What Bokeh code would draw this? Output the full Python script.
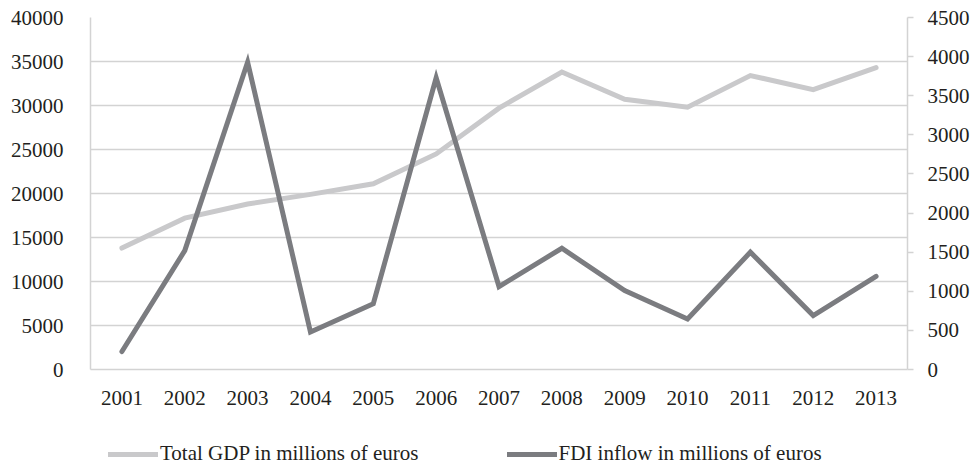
from bokeh.plotting import figure
from bokeh.layouts import column
from bokeh.models import Range1d, LinearAxis, FactorRange, FixedTicker, Legend, LegendItem
from bokeh.embed import file_html
from bokeh.resources import INLINE

years = [str(y) for y in range(2001, 2014)]
gdp = [13800, 17200, 18800, 19900, 21100, 24500, 29700, 33800, 30700, 29800, 33400, 31800, 34300]
fdi = [230, 1520, 3930, 480, 840, 3730, 1060, 1550, 1010, 645, 1500, 690, 1190]
left_ticks = list(range(0, 40001, 5000))
right_ticks = list(range(0, 4501, 500))
series_labels = ["Total GDP in millions of euros", "FDI inflow in millions of euros"]

GDP_COLOR = "#c9c9cb"
FDI_COLOR = "#7b7c80"
GRID = "#d3d3d3"
TEXT = "#231f20"
FONT = "Liberation Serif"
FS = "21px"

p = figure(width=973, height=440, x_range=FactorRange(*years), y_range=Range1d(0, 40000),
           output_backend="svg", toolbar_location=None,
           min_border_left=90, min_border_right=66, min_border_top=17, min_border_bottom=71)
p.extra_y_ranges = {"right": Range1d(0, 4500)}
p.outline_line_color = None
p.background_fill_color = "white"

p.xgrid.grid_line_color = None
p.ygrid.grid_line_color = GRID
p.ygrid.grid_line_width = 1.5
p.yaxis.ticker = FixedTicker(ticks=left_ticks)

for ax in [p.xaxis[0], p.yaxis[0]]:
    ax.axis_line_color = GRID
    ax.axis_line_width = 1.5
    ax.major_tick_line_color = None
    ax.minor_tick_line_color = None
    ax.major_tick_out = 0
    ax.major_tick_in = 0
    ax.major_label_text_font = FONT
    ax.major_label_text_font_size = FS
    ax.major_label_text_color = TEXT
p.yaxis[0].major_label_standoff = 27
p.xaxis[0].major_label_standoff = 21

raxis = LinearAxis(y_range_name="right", ticker=FixedTicker(ticks=right_ticks))
raxis.axis_line_color = GRID
raxis.axis_line_width = 1.5
raxis.major_tick_line_color = GRID
raxis.major_tick_line_width = 1.5
raxis.major_tick_out = 6
raxis.major_tick_in = 0
raxis.minor_tick_line_color = None
raxis.major_label_standoff = 14
raxis.major_label_text_font = FONT
raxis.major_label_text_font_size = FS
raxis.major_label_text_color = TEXT
p.add_layout(raxis, "right")

p.line(years, gdp, line_color=GDP_COLOR, line_width=5, line_cap="round", line_join="miter")
p.line(years, fdi, line_color=FDI_COLOR, line_width=5, line_cap="round", line_join="miter",
       y_range_name="right")

# legend strip below the chart (frame is aligned with the chart's frame by the column)
nan = float("nan")
p2 = figure(width=973, height=28, x_range=Range1d(0, 1), y_range=Range1d(0, 1),
            output_backend="svg", toolbar_location=None, x_axis_type=None, y_axis_type=None,
            min_border_left=90, min_border_right=66, min_border_top=0, min_border_bottom=0)
p2.outline_line_color = None
p2.grid.grid_line_color = None
d1 = p2.line(x=[nan], y=[nan], line_color=GDP_COLOR, line_width=5, line_cap="round")
d2 = p2.line(x=[nan], y=[nan], line_color=FDI_COLOR, line_width=5, line_cap="round")

legend = Legend(items=[LegendItem(label=series_labels[0], renderers=[d1]),
                       LegendItem(label=series_labels[1], renderers=[d2])],
                location=(18, 2), orientation="horizontal", glyph_width=50, glyph_height=20,
                label_standoff=2, padding=0, margin=0, spacing=88,
                border_line_color=None, background_fill_alpha=0,
                label_text_font=FONT, label_text_font_size=FS, label_text_color=TEXT)
p2.add_layout(legend)

layout = column(p, p2, spacing=0)
open("out.html", "w").write(file_html(layout, INLINE))
